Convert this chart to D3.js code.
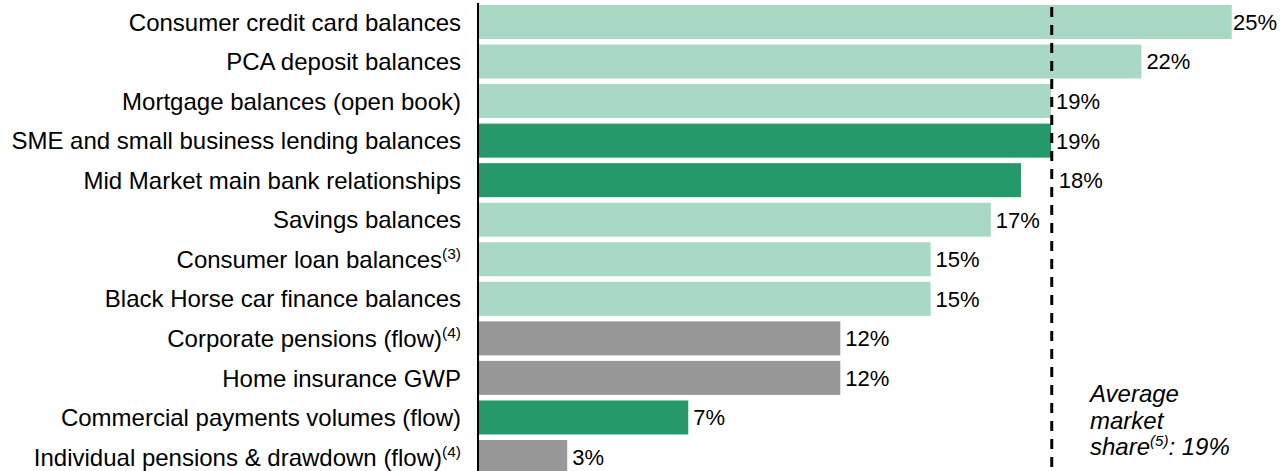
<!DOCTYPE html>
<html>
<head>
<meta charset="utf-8">
<script src="https://cdn.jsdelivr.net/npm/d3@7"></script>
<style>
  html, body { margin: 0; padding: 0; background: #fff; }
  svg { display: block; font-family: "Liberation Sans", Arial, sans-serif; }
</style>
</head>
<body>
<svg id="chart" width="1284" height="471"></svg>
<script>
// ---- data ----
const categories = [
  "Consumer credit card balances",
  "PCA deposit balances",
  "Mortgage balances (open book)",
  "SME and small business lending balances",
  "Mid Market main bank relationships",
  "Savings balances",
  "Consumer loan balances",
  "Black Horse car finance balances",
  "Corporate pensions (flow)",
  "Home insurance GWP",
  "Commercial payments volumes (flow)",
  "Individual pensions & drawdown (flow)"
];
const footnotes = ["", "", "", "", "", "", "(3)", "", "(4)", "", "", "(4)"];
const values = [25.0, 22.0, 19.0, 19.0, 18.0, 17.0, 15.0, 15.0, 12.0, 12.0, 6.95, 2.93];
const valueLabels = ["25%", "22%", "19%", "19%", "18%", "17%", "15%", "15%", "12%", "12%", "7%", "3%"];
const groups = ["retail", "retail", "retail", "commercial", "commercial", "retail", "retail", "retail", "insurance", "insurance", "commercial", "insurance"];
const averageShare = 19.0;
const averageLabel = ["Average", "market", "share", "(5)", ": 19%"];

// ---- layout ----
const W = 1284, H = 471;
const svg = d3.select("#chart");
const colors = { retail: "#a9d9c5", commercial: "#25996a", insurance: "#989898" };

const x = d3.scaleLinear().domain([0, 25]).range([479, 1231.7]);
const y = d3.scaleBand().domain(categories).range([2.2, 476.8]).paddingInner(0.14).paddingOuter(0.07);

const rows = categories.map((c, i) => ({ c, fn: footnotes[i], v: values[i], lab: valueLabels[i], g: groups[i] }));

// bars
svg.append("g").selectAll("rect").data(rows).join("rect")
  .attr("x", x(0))
  .attr("y", d => y(d.c))
  .attr("width", d => x(d.v) - x(0))
  .attr("height", y.bandwidth())
  .attr("fill", d => colors[d.g]);

// category labels
const lab = svg.append("g").selectAll("text").data(rows).join("text")
  .attr("x", 461)
  .attr("y", d => y(d.c) + y.bandwidth() / 2)
  .attr("dy", "0.36em")
  .attr("text-anchor", "end")
  .attr("font-size", 24)
  .attr("fill", "#000");
lab.append("tspan").text(d => d.c);
lab.filter(d => d.fn).append("tspan")
  .attr("font-size", 15.5)
  .attr("dy", "-0.55em")
  .text(d => d.fn);

// axis line
svg.append("line")
  .attr("x1", 478).attr("x2", 478)
  .attr("y1", 3).attr("y2", H)
  .attr("stroke", "#000").attr("stroke-width", 2);

// average dashed line
const ax = x(averageShare) + 0.7;
svg.append("line")
  .attr("x1", ax).attr("x2", ax)
  .attr("y1", 7).attr("y2", H)
  .attr("stroke", "#000").attr("stroke-width", 3)
  .attr("stroke-dasharray", "10,8");

// value labels
const vl = svg.append("g").selectAll("text").data(rows).join("text")
  .attr("y", d => y(d.c) + y.bandwidth() / 2)
  .attr("dy", "0.36em")
  .attr("font-size", 22)
  .attr("fill", "#000")
  .text(d => d.lab);
vl.each(function(d) {
  const w = this.getComputedTextLength();
  let px = x(d.v) + 5;
  if (px < ax + 4 && px + w > ax - 4) px = ax + 7;
  if (px + w > W - 7) px = W - 7 - w;
  d3.select(this).attr("x", px);
});

// average annotation
const ann = svg.append("g")
  .attr("font-size", 24)
  .attr("font-style", "italic")
  .attr("fill", "#000");
ann.append("text").attr("x", 1090).attr("y", 402).text(averageLabel[0]);
ann.append("text").attr("x", 1090).attr("y", 428.5).text(averageLabel[1]);
const t3 = ann.append("text").attr("x", 1090).attr("y", 455);
t3.append("tspan").text(averageLabel[2]);
t3.append("tspan").attr("font-size", 15).attr("dy", -9).text(averageLabel[3]);
t3.append("tspan").attr("dy", 9).text(averageLabel[4]);
</script>
</body>
</html>
